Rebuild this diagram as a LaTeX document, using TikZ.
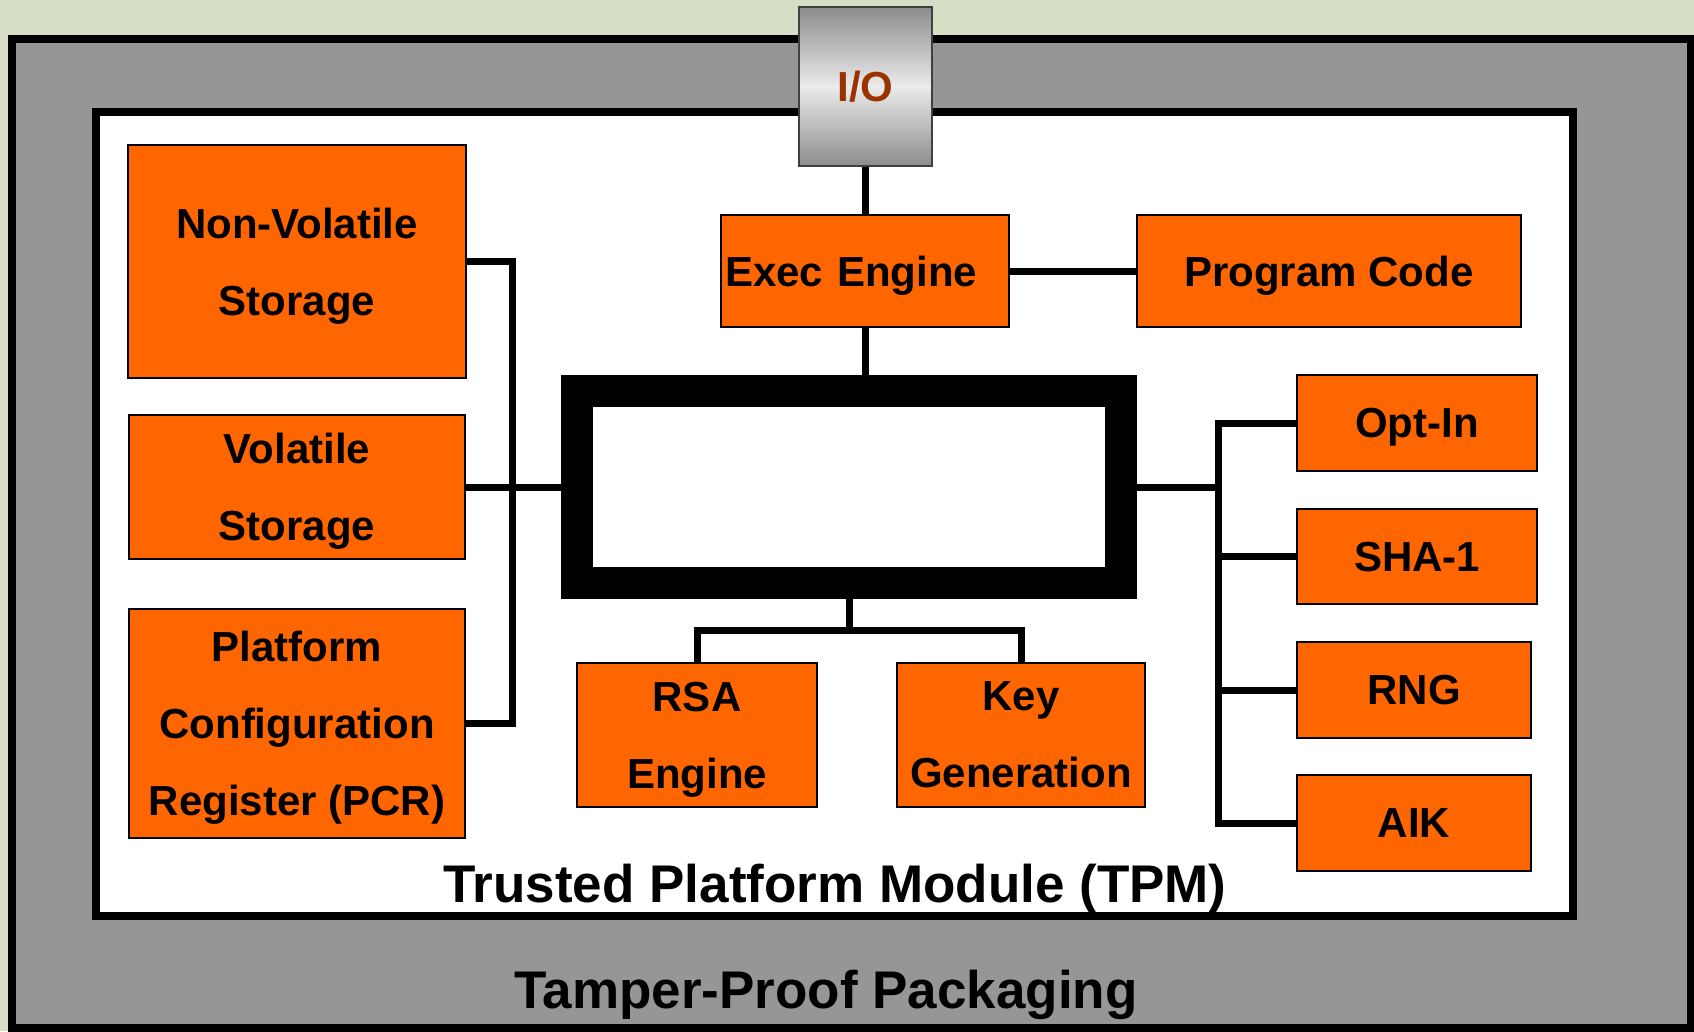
\documentclass[tikz,border=0pt]{standalone}
\usepackage{fontspec}
\setmainfont{Liberation Sans}
\definecolor{myorange}{RGB}{255,102,0}
\definecolor{mygray}{RGB}{150,150,150}
\definecolor{mybg}{RGB}{214,222,198}
\definecolor{mybrown}{RGB}{153,51,0}
\tikzset{BlockStyle/.style={draw=black, line width=2pt, fill=myorange, inner sep=4pt, align=center,
    text depth=-2pt, font=\bfseries\fontsize{42}{77}\selectfont},
  LabelStyle/.style={inner sep=0pt, anchor=base, font=\bfseries\fontsize{53}{60}\selectfont},
  WireStyle/.style={line width=7pt}}

\begin{document}
\begin{tikzpicture}[x=1pt,y=-1pt]
\fill[mybg] (0,0) rectangle (1694,1031);
\useasboundingbox (0,0) rectangle (1694,1031);
% packaging and module outline
\draw[line width=8pt, fill=mygray] (12,39) rectangle (1691,1028);
\draw[line width=8pt, fill=white] (96,112) rectangle (1573,916);
\node[draw=black!75, line width=2pt, top color=black!45, bottom color=black!45, middle color=black!8,
  minimum width=133pt, minimum height=159pt, text=mybrown,
  font=\bfseries\fontsize{42}{50}\selectfont] (io) at (865.5,86.5) {I/O};
% blocks
\node[BlockStyle, minimum width=288pt, minimum height=112pt, text width=280pt, align=left] (exec) at (865,271) {Exec Engine};
\node[BlockStyle, minimum width=384pt, minimum height=112pt] (prog) at (1329,271) {Program Code};
\node[BlockStyle, minimum width=338pt, minimum height=233pt] (nvs) at (297,261.5) {Non-Volatile\\Storage};
\node[BlockStyle, minimum width=336pt, minimum height=144pt] (vs) at (297,487) {Volatile\\Storage};
\node[BlockStyle, minimum width=336pt, minimum height=229pt] (pcr) at (297,723.5) {Platform\\Configuration\\Register (PCR)};
\node[draw=black, line width=32pt, fill=white, minimum width=544pt, minimum height=192pt] (core) at (849,487) {};
\node[BlockStyle, minimum width=240pt, minimum height=144pt] (rsa) at (697,735) {RSA\\Engine};
\node[BlockStyle, minimum width=248pt, minimum height=144pt] (keygen) at (1021,735) {Key\\Generation};
\node[BlockStyle, minimum width=240pt, minimum height=96pt] (optin) at (1417,423) {Opt-In};
\node[BlockStyle, minimum width=240pt, minimum height=95pt] (sha) at (1417,556.5) {SHA-1};
\node[BlockStyle, minimum width=234pt, minimum height=96pt] (rng) at (1414,690) {RNG};
\node[BlockStyle, minimum width=234pt, minimum height=96pt] (aik) at (1414,823) {AIK};
\node[LabelStyle] (tpm) at (835,902) {Trusted Platform Module (TPM)};
\node[LabelStyle] (pack) at (826,1008) {Tamper-Proof Packaging};
% wiring
\coordinate (lbus) at (512,487);
\coordinate (rbus) at (1218,487);
\coordinate (split) at (849,630);
\draw[WireStyle] (io.south) -- (io.south |- exec.north);
\draw[WireStyle] (exec.east) -- (prog.west);
\draw[WireStyle] (exec.south) -- (exec.south |- core.north);
\draw[WireStyle] (nvs.east) -| (lbus) |- (pcr.east);
\draw[WireStyle] (vs.east) -- (core.west);
\draw[WireStyle] (core.east) -- (rbus);
\draw[WireStyle] (optin.west) -| (rbus) |- (aik.west);
\draw[WireStyle] (sha.west) -- (sha.west -| rbus);
\draw[WireStyle] (rng.west) -- (rng.west -| rbus);
\draw[WireStyle] (core.south) -- (split);
\draw[WireStyle] (rsa.north) |- (split) -| (keygen.north);
\end{tikzpicture}
\end{document}
